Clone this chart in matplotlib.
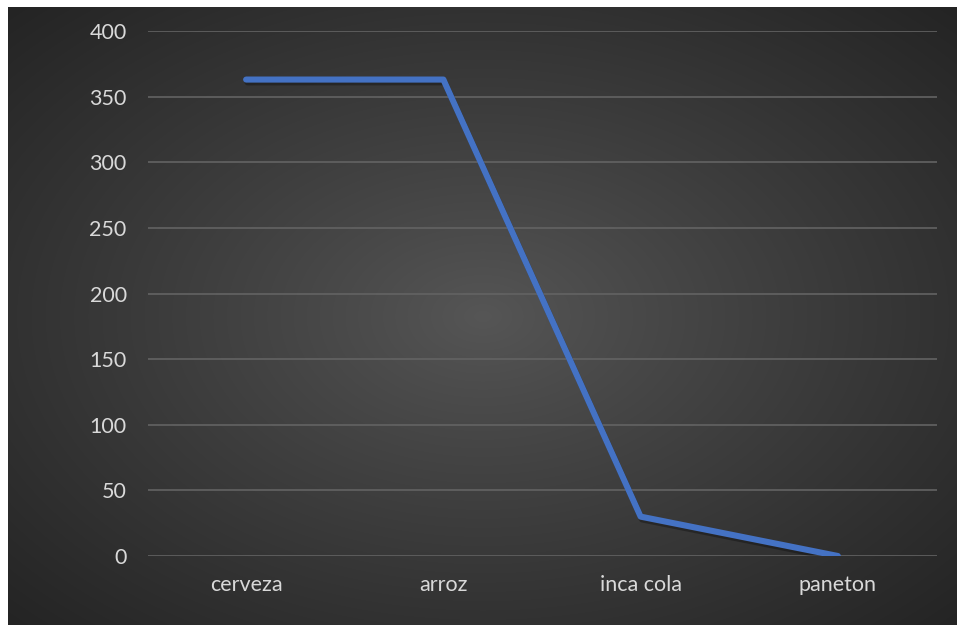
import numpy as np
import matplotlib
matplotlib.use("Agg")
import matplotlib.pyplot as plt
import matplotlib.patheffects as pe

categories = ["cerveza", "arroz", "inca cola", "paneton"]
values = [363, 363, 30, 0]
yticks = [0, 50, 100, 150, 200, 250, 300, 350, 400]

W, H = 957, 625
fig = plt.figure(figsize=(W / 100, H / 100), dpi=100, facecolor="white")

# background with radial gradient, placed in pixels
bw, bh = W - 8, H - 7
yy, xx = np.mgrid[0:bh, 0:bw]
cx, cy = bw * 0.5, bh * 0.5
r = np.sqrt(((xx - cx) / (bw / 2)) ** 2 + ((yy - cy) / (bh / 2)) ** 2) / np.sqrt(2)
r = np.clip(r, 0, 1) ** 0.9
c0 = np.array([0x56, 0x56, 0x56]) / 255
c1 = np.array([0x24, 0x24, 0x24]) / 255
img = c0[None, None, :] * (1 - r[..., None]) + c1[None, None, :] * r[..., None]
fig.figimage(img, xo=8, yo=0, origin="upper", zorder=0)

left, right = 147.5 / W, 936.5 / W
bottom, top = 1 - 556 / H, 1 - 31 / H
ax = fig.add_axes([left, bottom, right - left, top - bottom])
ax.set_zorder(5)
ax.patch.set_alpha(0)
x = np.arange(len(categories))
ax.plot(x, values, color="#4472C4", lw=4.4, solid_capstyle="round", solid_joinstyle="round",
        zorder=3, path_effects=[pe.SimpleLineShadow(offset=(1, -2), shadow_color="black", alpha=0.3),
                                pe.Normal()])
ax.set_xlim(-0.5, len(categories) - 0.5)
ax.set_ylim(0, 400)
ax.set_yticks(yticks)
ax.set_xticks(x)
ax.set_xticklabels(categories)
for s in ax.spines.values():
    s.set_visible(False)
ax.grid(axis="y", color="#636363", lw=1.2)
ax.set_axisbelow(True)
ax.tick_params(length=0, colors="#d9d9d9", labelsize=15.5)
ax.tick_params(axis="y", pad=15)
ax.tick_params(axis="x", pad=14)
for lab in ax.get_xticklabels() + ax.get_yticklabels():
    lab.set_family("Lato")

fig.savefig("out.png", dpi=100, facecolor="white")
